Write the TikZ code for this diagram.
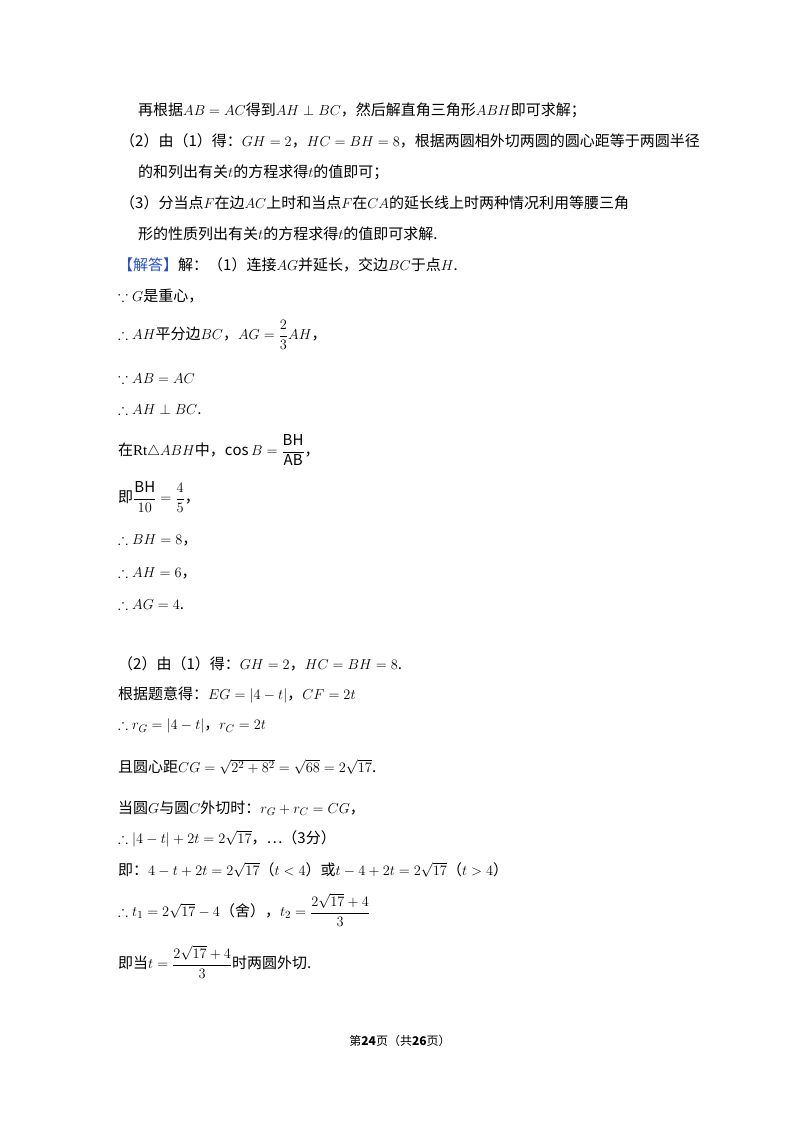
\documentclass[tikz,border=0pt]{standalone}
\usepackage{amssymb,amsmath}
\usepackage{fontspec}
\setmainfont{Noto Sans CJK SC}
\newfontfamily\lat{Liberation Serif}
\definecolor{ansblue}{RGB}{40,80,200}
\tikzset{ln/.style={anchor=west,inner sep=0pt,font=\fontsize{15}{18}\selectfont}}
\newcommand{\rt}{\sqrt{17}}
\newcommand{\fr}[2]{\dfrac{#1}{#2}}
\begin{document}
\begin{tikzpicture}[x=1pt,y=-1pt]
\useasboundingbox[fill=white] (0,0) rectangle (800,1132);
\node[ln] (l1) at (138,110) {再根据$AB=AC$得到$AH\perp BC$，然后解直角三角形$ABH$即可求解；};
\node[ln] (l2) at (120,141) {（2）由（1）得：$GH=2$，$HC=BH=8$，根据两圆相外切两圆的圆心距等于两圆半径};
\node[ln] (l3) at (138,172) {的和列出有关$t$的方程求得$t$的值即可；};
\node[ln] (l4) at (120,203) {（3）分当点$F$在边$AC$上时和当点$F$在$CA$的延长线上时两种情况利用等腰三角};
\node[ln] (l5) at (138,234) {形的性质列出有关$t$的方程求得$t$的值即可求解.};
\node[ln] (l6) at (118,265) {\textcolor{ansblue}{【解答】}解：（1）连接$AG$并延长，交边$BC$于点$H$.};
\node[ln] (l7) at (118,296) {$\because G$是重心，};
\node[ln] (l8) at (118,335) {$\therefore AH$平分边$BC$，$AG=\fr{2}{3}AH$，};
\node[ln] (l9) at (118,378) {$\because AB=AC$};
\node[ln] (l10) at (118,409) {$\therefore AH\perp BC$.};
\node[ln] (l11) at (118,450) {在{\lat Rt}$\triangle ABH$中，$\cos B=\fr{\mathrm{BH}}{\mathrm{AB}}$，};
\node[ln] (l12) at (118,497) {即$\fr{\mathrm{BH}}{10}=\fr{4}{5}$，};
\node[ln] (l13) at (118,540) {$\therefore BH=8$，};
\node[ln] (l14) at (118,573) {$\therefore AH=6$，};
\node[ln] (l15) at (118,604) {$\therefore AG=4$.};
\node[ln] (l16) at (118,664) {（2）由（1）得：$GH=2$，$HC=BH=8$.};
\node[ln] (l17) at (118,695) {根据题意得：$EG=|4-t|$，$CF=2t$};
\node[ln] (l18) at (118,726) {$\therefore r_G=|4-t|$，$r_C=2t$};
\node[ln] (l19) at (118,767) {且圆心距$CG=\sqrt{2^2+8^2}=\sqrt{68}=2\rt$.};
\node[ln] (l20) at (118,808) {当圆$G$与圆$C$外切时：$r_G+r_C=CG$，};
\node[ln] (l21) at (118,839) {$\therefore |4-t|+2t=2\rt$，…（3分）};
\node[ln] (l22) at (118,870) {即：$4-t+2t=2\rt$（$t<4$）或$t-4+2t=2\rt$（$t>4$）};
\node[ln] (l23) at (118,910) {$\therefore t_1=2\rt-4$（舍），$t_2=\fr{2\sqrt{17}+4}{3}$};
\node[ln] (l24) at (118,962) {即当$t=\fr{2\sqrt{17}+4}{3}$时两圆外切.};
\node[anchor=center,inner sep=0pt,font=\fontsize{12}{14}\selectfont] (ft) at (400,1041) {第\textbf{24}页（共\textbf{26}页）};
\end{tikzpicture}
\end{document}
